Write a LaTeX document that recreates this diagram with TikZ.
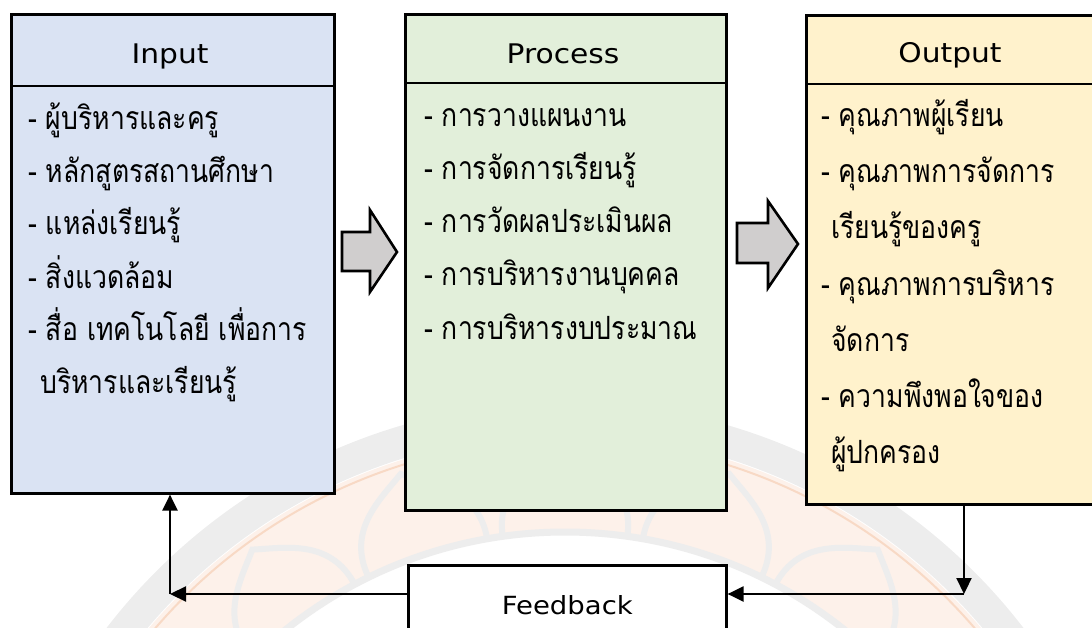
\documentclass[tikz,border=0pt]{standalone}
\usepackage{fontspec}
\setmainfont[Script=Thai,FakeStretch=0.83]{Loma}
\newfontfamily\latf[FakeStretch=1.1]{DejaVu Sans}
\usetikzlibrary{arrows.meta}
\definecolor{inblue}{HTML}{DAE3F3}
\definecolor{prgreen}{HTML}{E2EFDA}
\definecolor{outgold}{HTML}{FFF2CC}
\definecolor{blkgrey}{HTML}{D0CECE}
\definecolor{wmgrey}{HTML}{EDEDED}
\definecolor{wmpeach}{HTML}{FDF1EA}
\definecolor{wmorange}{HTML}{F8D9C5}
\begin{document}
\begin{tikzpicture}[x=1pt,y=-1pt,
  box/.style={draw=black,line width=2.6pt,anchor=north west,inner sep=0pt},
  hdr/.style={font=\latf\fontsize{27}{32}\selectfont,inner sep=0pt},
  item/.style={anchor=base west,inner sep=0pt,font=\fontsize{32}{38}\selectfont},
  conn/.style={line width=2.2pt,-{Triangle[length=16pt,width=15pt]}},
  blk/.style={draw=black,line width=2.6pt,fill=blkgrey,line join=miter},
  petal/.style={draw=wmgrey,line width=6pt,fill=wmpeach}]
\useasboundingbox (0,0) rectangle (1092,628);
\clip (0,0) rectangle (1092,628);
% faint watermark in the background
\begin{scope}[shift={(565,980)}]
  \fill[wmpeach] (0,0) circle[radius=545];
  \fill[wmgrey,even odd rule] (0,0) circle[radius=578] (0,0) circle[radius=546];
  \draw[wmorange,line width=2pt] (0,0) circle[radius=540];
  \foreach \a in {198,216,...,342}{
    \draw[petal] (\a-8:448) .. controls (\a-8:500) and (\a-3:515) .. (\a:532)
      .. controls (\a+3:515) and (\a+8:500) .. (\a+8:448);
  }
  \fill[white] (0,0) circle[radius=445];
  \draw[wmgrey,line width=7pt] (0,0) circle[radius=448];
\end{scope}
% boxes
\node[box,fill=inblue,minimum width=323pt,minimum height=479pt] (in) at (10,13) {};
\node[box,fill=prgreen,minimum width=321pt,minimum height=496pt] (pr) at (404,13) {};
\node[box,fill=outgold,minimum width=300pt,minimum height=489pt] (out) at (805,14) {};
\node[box,fill=white,minimum width=318pt,minimum height=80pt,font=\latf\fontsize{25}{30}\selectfont] (fb) at (407,564) {Feedback};
% header lines
\draw[line width=2.6pt] ([yshift=-73pt]in.north west) -- ([yshift=-73pt]in.north east);
\draw[line width=2.6pt] ([yshift=-70pt]pr.north west) -- ([yshift=-70pt]pr.north east);
\draw[line width=2.6pt] ([yshift=-70pt]out.north west) -- ([yshift=-70pt]out.north east);
% headers
\node[hdr] (inh) at (170,56) {Input};
\node[hdr] (prh) at (563,54) {Process};
\node[hdr] (outh) at (950,55) {Output};
% input items
\node[item] (i1) at (28,130) {- ผู้บริหารและครู};
\node[item] (i2) at (28,183) {- หลักสูตรสถานศึกษา};
\node[item] (i3) at (28,235) {- แหล่งเรียนรู้};
\node[item] (i4) at (28,288) {- สิ่งแวดล้อม};
\node[item] (i5) at (28,340) {- สื่อ เทคโนโลยี เพื่อการ};
\node[item] (i6) at (40,393) {บริหารและเรียนรู้};
% process items
\node[item] (p1) at (424,127) {- การวางแผนงาน};
\node[item] (p2) at (424,180) {- การจัดการเรียนรู้};
\node[item] (p3) at (424,233) {- การวัดผลประเมินผล};
\node[item] (p4) at (424,286) {- การบริหารงานบุคคล};
\node[item] (p5) at (424,339) {- การบริหารงบประมาณ};
% output items
\node[item] (o1) at (821,127) {- คุณภาพผู้เรียน};
\node[item] (o2) at (821,183) {- คุณภาพการจัดการ};
\node[item] (o3) at (831,239) {เรียนรู้ของครู};
\node[item] (o4) at (821,295) {- คุณภาพการบริหาร};
\node[item] (o5) at (831,351) {จัดการ};
\node[item] (o6) at (821,407) {- ความพึงพอใจของ};
\node[item] (o7) at (831,463) {ผู้ปกครอง};
% block arrows
\draw[blk] (342,232) -- (370,232) -- (370,210) -- (397,252) -- (370,292) -- (370,271) -- (342,271) -- cycle;
\draw[blk] (737,223) -- (768,223) -- (768,201) -- (798,244) -- (768,288) -- (768,263) -- (737,263) -- cycle;
% feedback loop
\coordinate (c1) at (964,594);
\coordinate (c2) at (170,594);
\draw[conn] (c1 |- out.south) -- (c1);
\draw[conn] (c1) -- (fb.east |- c1);
\draw[conn] (fb.west |- c2) -- (c2);
\draw[conn] (c2) -- (c2 |- in.south);
\end{tikzpicture}
\end{document}
